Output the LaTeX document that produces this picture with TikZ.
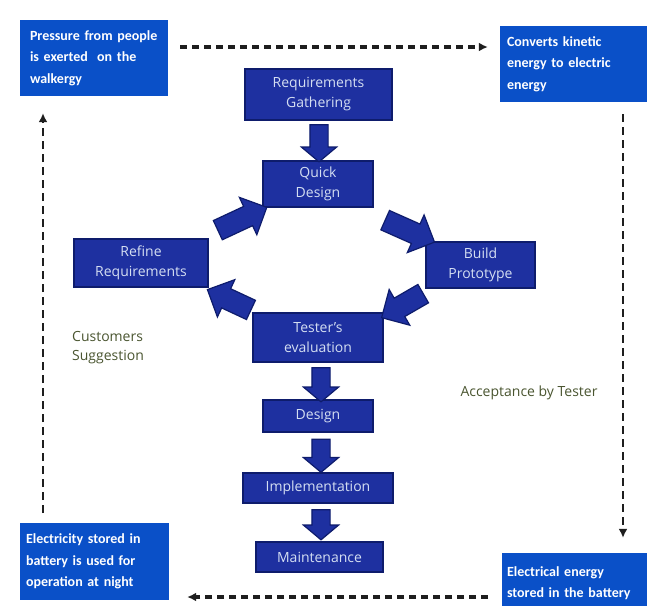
\documentclass[tikz,border=0pt]{standalone}
\usepackage{fontspec}
\setmainfont{Open Sans}
\newfontfamily\cornerfont{Carlito}
\usetikzlibrary{shapes.arrows,arrows.meta,calc}
\definecolor{cornerblue}{HTML}{0A50C8}
\definecolor{navyfill}{HTML}{1E30A0}
\definecolor{navyline}{HTML}{0E1C6C}
\definecolor{boxtext}{HTML}{D4DEF2}
\definecolor{labelolive}{HTML}{4A5530}
\definecolor{dashgray}{HTML}{1E1E1E}
\begin{document}
\begin{tikzpicture}[x=1pt,y=-1pt,
  corner/.style={fill=cornerblue, text=white, draw=none,
    font=\cornerfont\bfseries\fontsize{14}{21.5}\selectfont,
    align=left, inner ysep=0pt},
  stage/.style={fill=navyfill, draw=navyline, line width=1.6pt, text=boxtext,
    font=\fontsize{14}{20}\selectfont, align=center, inner sep=0pt},
  downarrow/.style={single arrow, fill=navyfill, draw=navyline, line width=1.2pt,
    inner xsep=0pt, inner ysep=8.5pt, single arrow head extend=8.5pt,
    single arrow tip angle=100, rotate=-90},
  diagarrow/.style={single arrow, fill=navyfill, draw=navyline, line width=1.2pt,
    inner xsep=0pt, inner ysep=10pt, single arrow head extend=10pt,
    single arrow tip angle=90, minimum height=54pt},
  dashflow/.style={dashgray, line width=3.2pt, dash pattern=on 7pt off 5pt,
    -{Latex[length=9pt,width=9pt]}},
  vdashflow/.style={dashflow, line width=2.6pt, dash pattern=on 8pt off 5pt},
  lbl/.style={text=labelolive, font=\fontsize{14}{19}\selectfont, align=left, inner sep=0pt}
]
\useasboundingbox (0,0) rectangle (647,605);
\fill[white] (0,0) rectangle (647,605);

% corner boxes
\node[corner, minimum width=148pt, minimum height=76pt, text width=128pt, inner xsep=10pt] (tl) at (94,58)
  {Pressure from people\\is exerted\ \ on the\\walkergy};
\node[corner, minimum width=147pt, minimum height=76pt, text width=133pt, inner xsep=7pt] (tr) at (573.5,64)
  {Converts kinetic\\energy to electric\\energy};
\node[corner, minimum width=149pt, minimum height=77pt, text width=137pt, inner xsep=6pt] (bl) at (94.5,561.5)
  {Electricity stored in\\battery is used for\\operation at night};
\node[corner, minimum width=145pt, minimum height=60pt, text width=135pt, inner xsep=5pt] (br) at (574.5,583)
  {Electrical energy\\stored in the battery};

% process stages
\node[stage, minimum width=147pt, minimum height=51pt] (rg) at (318.5,94.5) {Requirements\\Gathering};
\node[stage, minimum width=110pt, minimum height=46pt] (qd) at (318,184) {Quick\\Design};
\node[stage, minimum width=134pt, minimum height=48pt] (rr) at (141,263) {Refine\\Requirements};
\node[stage, minimum width=109pt, minimum height=46pt] (bp) at (480.5,265) {Build\\Prototype};
\node[stage, minimum width=130pt, minimum height=49pt] (te) at (318,337.5) {Tester's\\evaluation};
\node[stage, minimum width=110pt, minimum height=32pt] (de) at (318,416) {Design};
\node[stage, minimum width=150pt, minimum height=30pt] (im) at (318,488) {Implementation};
\node[stage, minimum width=127pt, minimum height=30pt] (ma) at (319.5,557) {Maintenance};

% block arrows
\node[downarrow, minimum height=37pt] (a1) at (319,139.5) {};
\node[downarrow, minimum height=34pt] (a5) at (321,381) {};
\node[downarrow, minimum height=33pt] (a6) at (321,452) {};
\node[downarrow, minimum height=30pt] (a7) at (321,521) {};
\node[diagarrow, rotate=25] (a2) at (237.5,221) {};
\node[diagarrow, rotate=-24] (a3) at (405,229) {};
\node[diagarrow, rotate=-150, minimum height=48pt] (a4) at (407,303) {};
\node[diagarrow, rotate=155, minimum height=48pt] (a8) at (234,302) {};

% labels
\node[lbl, anchor=west] (cs) at (72,347.5) {Customers\\Suggestion};
\node[lbl] (ac) at (529,393) {Acceptance by Tester};

% dashed cycle
\coordinate (t1) at (180,47);
\draw[dashflow, shorten >=12pt] (t1) -- (t1 -| tr.west);
\coordinate (r1) at (623,114);
\draw[vdashflow, shorten >=15pt] (r1) -- (r1 |- br.north);
\coordinate (b1) at (488,597);
\draw[dashflow, shorten >=18pt] (b1) -- (b1 -| bl.east);
\coordinate (l1) at (43,513);
\draw[vdashflow, shorten >=17pt] (l1) -- (l1 |- tl.south);
\end{tikzpicture}
\end{document}
